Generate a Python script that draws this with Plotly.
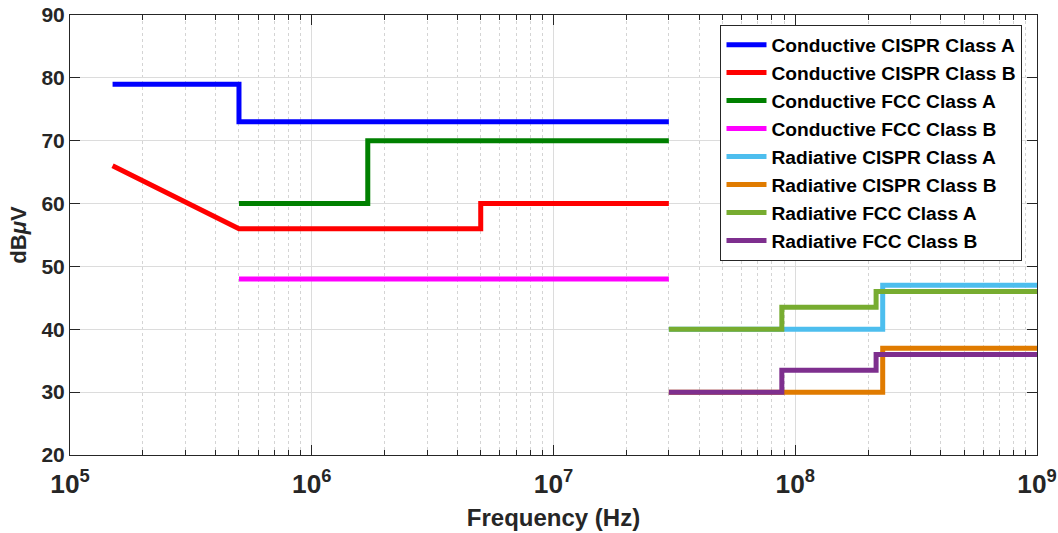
import plotly.graph_objects as go

# Data (frequency in Hz, level in dBuV)
names = ["Conductive CISPR Class A", "Conductive CISPR Class B",
         "Conductive FCC Class A", "Conductive FCC Class B",
         "Radiative CISPR Class A", "Radiative CISPR Class B",
         "Radiative FCC Class A", "Radiative FCC Class B"]
colors = ["#0000FF", "#FF0000", "#008000", "#FF00FF",
          "#4DBEEE", "#E07B00", "#77AC30", "#7E2F8E"]

cond_cispr_a_f = [1.5e5, 5e5, 5e5, 3e7]
cond_cispr_a_v = [79, 79, 73, 73]
cond_cispr_b_f = [1.5e5, 5e5, 5e6, 5e6, 3e7]
cond_cispr_b_v = [66, 56, 56, 60, 60]
cond_fcc_a_f = [5e5, 1.705e6, 1.705e6, 3e7]
cond_fcc_a_v = [60, 60, 70, 70]
cond_fcc_b_f = [5e5, 3e7]
cond_fcc_b_v = [48, 48]
rad_cispr_a_f = [3e7, 2.3e8, 2.3e8, 1e9]
rad_cispr_a_v = [40, 40, 47, 47]
rad_cispr_b_f = [3e7, 2.3e8, 2.3e8, 1e9]
rad_cispr_b_v = [30, 30, 37, 37]
rad_fcc_a_f = [3e7, 8.8e7, 8.8e7, 2.16e8, 2.16e8, 1e9]
rad_fcc_a_v = [40, 40, 43.5, 43.5, 46, 46]
rad_fcc_b_f = [3e7, 8.8e7, 8.8e7, 2.16e8, 2.16e8, 1e9]
rad_fcc_b_v = [30, 30, 33.5, 33.5, 36, 36]

series = [(cond_cispr_a_f, cond_cispr_a_v), (cond_cispr_b_f, cond_cispr_b_v),
          (cond_fcc_a_f, cond_fcc_a_v), (cond_fcc_b_f, cond_fcc_b_v),
          (rad_cispr_a_f, rad_cispr_a_v), (rad_cispr_b_f, rad_cispr_b_v),
          (rad_fcc_a_f, rad_fcc_a_v), (rad_fcc_b_f, rad_fcc_b_v)]

fig = go.Figure()
for name, color, (f, v) in zip(names, colors, series):
    fig.add_trace(go.Scatter(x=f, y=v, mode="lines", name=name,
                             line=dict(color=color, width=5)))

FONT = "Liberation Sans, Arial"
axis_common = dict(
    showline=True, linecolor="#262626", linewidth=1, mirror="ticks",
    ticks="inside", ticklen=10, tickcolor="#262626",
    tickfont=dict(family=FONT, size=21, color="#262626", weight="bold"),
    gridcolor="#DCDCDC", gridwidth=1, zeroline=False, automargin=False,
)

fig.update_layout(
    width=1058, height=533,
    margin=dict(l=70, r=21, t=15, b=78),
    paper_bgcolor="white", plot_bgcolor="white",
    font=dict(family=FONT, color="#262626"),
    xaxis=dict(type="log", range=[5, 9], dtick=1, exponentformat="power",
               ticklabelstandoff=7,
               title=dict(text="<b>Frequency (Hz)</b>", font=dict(size=24, color="#262626"), standoff=10),
               minor=dict(dtick="D1", ticks="inside", ticklen=5, tickcolor="#262626",
                          showgrid=True, gridcolor="#D4D4D4", griddash="dot", gridwidth=1),
               **axis_common),
    yaxis=dict(range=[20, 90], dtick=10,
               title=dict(text="<b>dB<i>μ</i>V</b>", font=dict(size=22, color="#262626"), standoff=8),
               **axis_common),
    legend=dict(x=0.985, xanchor="right", y=0.978, yanchor="top",
                bgcolor="white", bordercolor="#262626", borderwidth=1,
                font=dict(family=FONT, size=19.2, color="black", weight="bold"),
                tracegroupgap=0, itemwidth=40),
    showlegend=True,
)

fig.write_html("out.html")
